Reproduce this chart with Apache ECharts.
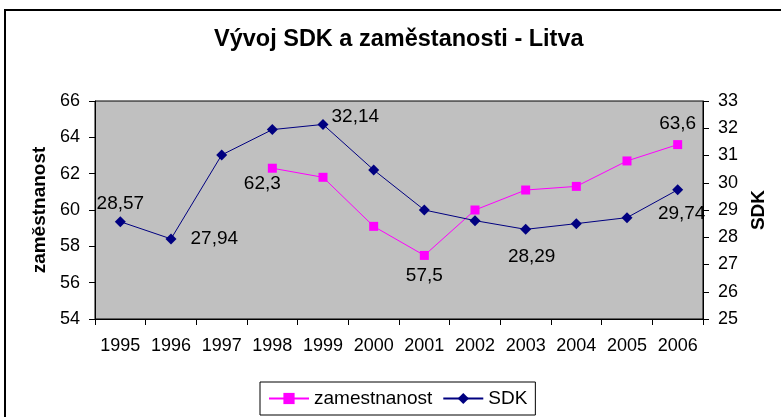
<!DOCTYPE html>
<html>
<head>
<meta charset="utf-8">
<script src="https://cdn.jsdelivr.net/npm/echarts@6/dist/echarts.min.js"></script>
<style>
  html, body { margin: 0; padding: 0; background: #fff; }
  #chart { width: 781px; height: 417px; }
</style>
</head>
<body>
<div id="chart"></div>
<script>
const years = ['1995', '1996', '1997', '1998', '1999', '2000', '2001', '2002', '2003', '2004', '2005', '2006'];
const zamestnanost = [null, null, null, 62.3, 61.8, 59.1, 57.5, 60.0, 61.1, 61.3, 62.7, 63.6];
const sdk = [28.57, 27.94, 31.02, 31.95, 32.14, 30.47, 29.0, 28.61, 28.29, 28.5, 28.72, 29.74];

// which points carry a value label, and where it sits
const zamLabels = {
  3: { position: 'bottom', distance: 2, offset: [-10, 0] },
  6: { position: 'bottom', distance: 6 },
  11: { position: 'top', distance: 7 }
};
const sdkLabels = {
  0: { position: 'top', distance: 3 },
  1: { position: 'right', distance: 14 },
  4: { position: 'right', distance: 3, offset: [0, -8] },
  8: { position: 'bottom', distance: 12, offset: [6, 0] },
  11: { position: 'bottom', distance: 9, offset: [4, 0] }
};

const fmt = v => String(v).replace('.', ',');

function withLabels(values, labels) {
  return values.map((v, i) => {
    if (!labels[i]) return v;
    return {
      value: v,
      label: Object.assign({
        show: true,
        formatter: p => fmt(p.value),
        color: '#000',
        fontSize: 19,
        fontFamily: 'Liberation Sans'
      }, labels[i])
    };
  });
}

const chart = echarts.init(document.getElementById('chart'));

const option = {
  animation: false,
  textStyle: { fontFamily: 'Liberation Sans' },
  graphic: [{
    type: 'rect',
    shape: { x: 5, y: 10, width: 900, height: 600 },
    style: { fill: 'none', stroke: '#000', lineWidth: 2 },
    silent: true
  }],
  title: {
    text: 'Vývoj SDK a zaměstanosti - Litva',
    left: 214,
    top: 28,
    padding: 0,
    textStyle: { fontSize: 23.5, fontWeight: 'bold', color: '#000', fontFamily: 'Liberation Sans' }
  },
  legend: {
    left: 260,
    top: 382,
    padding: [7, 8, 7, 8],
    itemWidth: 40,
    itemHeight: 14,
    itemGap: 10,
    borderColor: '#000',
    borderWidth: 1,
    textStyle: { fontSize: 19, color: '#000', fontFamily: 'Liberation Sans' },
    data: ['zamestnanost', 'SDK']
  },
  grid: {
    left: 95,
    right: 78,
    top: 101,
    bottom: 98,
    show: true,
    backgroundColor: '#c0c0c0',
    borderColor: '#000',
    borderWidth: 1
  },
  xAxis: {
    type: 'category',
    data: years,
    boundaryGap: true,
    axisLine: { lineStyle: { color: '#000', width: 1 } },
    axisTick: { show: true, interval: 0, length: 6, lineStyle: { color: '#000' } },
    axisLabel: { color: '#000', fontSize: 18, margin: 18, interval: 0 },
    splitLine: { show: false }
  },
  yAxis: [{
    type: 'value',
    min: 54,
    max: 66,
    interval: 2,
    name: 'zaměstnanost',
    nameLocation: 'middle',
    nameGap: 46,
    nameTextStyle: { fontSize: 19, fontWeight: 'bold', color: '#000' },
    axisLine: { show: true, lineStyle: { color: '#000' } },
    axisTick: { show: true, length: 6, lineStyle: { color: '#000' } },
    axisLabel: { color: '#000', fontSize: 18, margin: 15 },
    splitLine: { show: false }
  }, {
    type: 'value',
    min: 25,
    max: 33,
    interval: 1,
    position: 'right',
    name: 'SDK',
    nameLocation: 'middle',
    nameGap: 45,
    nameTextStyle: { fontSize: 19, fontWeight: 'bold', color: '#000' },
    axisLine: { show: true, lineStyle: { color: '#000' } },
    axisTick: { show: true, length: 6, lineStyle: { color: '#000' } },
    axisLabel: { color: '#000', fontSize: 18, margin: 15 },
    splitLine: { show: false }
  }],
  series: [{
    name: 'zamestnanost',
    type: 'line',
    yAxisIndex: 0,
    data: withLabels(zamestnanost, zamLabels),
    color: '#ff00ff',
    symbol: 'rect',
    symbolSize: 9,
    showAllSymbol: true,
    connectNulls: false,
    lineStyle: { color: '#ff00ff', width: 1 },
    itemStyle: { color: '#ff00ff' }
  }, {
    name: 'SDK',
    type: 'line',
    yAxisIndex: 1,
    data: withLabels(sdk, sdkLabels),
    color: '#000080',
    symbol: 'diamond',
    symbolSize: 11,
    showAllSymbol: true,
    lineStyle: { color: '#000080', width: 1 },
    itemStyle: { color: '#000080' }
  }]
};

chart.setOption(option);
</script>
</body>
</html>
